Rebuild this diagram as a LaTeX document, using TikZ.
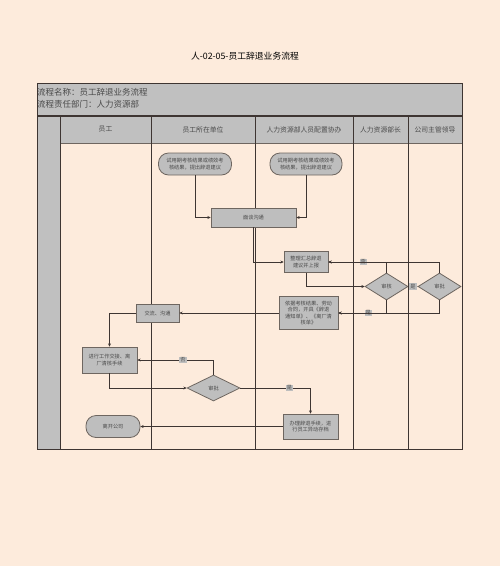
\documentclass[tikz,border=0pt]{standalone}
\usepackage{fontspec}
\setmainfont{Noto Sans CJK SC}
\usetikzlibrary{arrows.meta,positioning,shapes.geometric}
\definecolor{bgc}{HTML}{FDEBDC}
\definecolor{hdrc}{HTML}{C0C0C0}
\definecolor{nodec}{HTML}{BEBEBE}
\definecolor{edgec}{HTML}{6E6660}
\definecolor{linec}{HTML}{3E3532}
\definecolor{txtc}{HTML}{4A4A4A}
\tikzset{
  nodetext/.style={align=center, text=txtc, font=\fontsize{5.2}{6.6}\selectfont},
  term/.style={nodetext, draw=edgec, fill=nodec, line width=0.8pt, rounded corners=10pt, inner sep=0pt},
  procbox/.style={nodetext, draw=edgec, fill=nodec, line width=0.8pt, inner sep=0pt},
  decide/.style={nodetext, diamond, draw=edgec, fill=nodec, line width=0.8pt, inner sep=0pt},
  flow/.style={draw=linec, line width=0.6pt, -{Stealth[length=3.2pt,width=3pt]}},
  lbl/.style={fill=nodec, text=txtc, inner sep=1pt, font=\fontsize{5.2}{6}\selectfont},
  lanehead/.style={text=txtc, font=\fontsize{6.8}{8}\selectfont},
}
\begin{document}
\begin{tikzpicture}[x=1pt, y=-1pt, >=Stealth]
  \useasboundingbox[fill=bgc] (0,0) rectangle (500,566);

  % Title and header
  \node (title) at (245,56) {\fontsize{8.8}{10}\selectfont 人-02-05-员工辞退业务流程};
  \fill[hdrc] (37,83) rectangle (462,116);
  \fill[hdrc] (60,116) rectangle (462,143);
  \fill[hdrc] (37,116) rectangle (60,449);
  \node[anchor=west, inner sep=0pt, text=txtc] (pname) at (37,92) {\fontsize{8.5}{10}\selectfont 流程名称：员工辞退业务流程};
  \node[anchor=west, inner sep=0pt, text=txtc] (pdept) at (37,104) {\fontsize{8.5}{10}\selectfont 流程责任部门：人力资源部};

  % Swimlanes
  \draw[edgec, line width=0.5pt] (60,143) -- (462,143);
  \foreach \x in {60,151,255,353,408}
    \draw[linec, line width=0.7pt] (\x,116) -- (\x,449);
  \draw[linec, line width=1.2pt] (37,116) -- (462,116);
  \draw[linec, line width=1pt] (37,83) rectangle (462,449);
  \node[lanehead] (h1) at (105.5,129.5) {员工};
  \node[lanehead] (h2) at (203,129.5) {员工所在单位};
  \node[lanehead] (h3) at (304,129.5) {人力资源部人员配置协办};
  \node[lanehead] (h4) at (380.5,129.5) {人力资源部长};
  \node[lanehead] (h5) at (435,129.5) {公司主管领导};

  % Define nodes
  \node[term, minimum width=73pt, minimum height=22pt] (advA) at (195,164) {试用期考核结果或绩效考\\核结果，提出辞退建议};
  \node[term, minimum width=72pt, minimum height=22pt] (advB) at (306,164) {试用期考核结果或绩效考\\核结果，提出辞退建议};
  \node[procbox, minimum width=85pt, minimum height=19pt] (talk) at (253.5,217.5) {面谈沟通};
  \node[procbox, minimum width=44pt, minimum height=21pt] (sumup) at (306,262) {整理汇总辞退\\建议并上报};
  \node[decide, minimum width=43pt, minimum height=27pt] (check) at (386.5,286.5) {审核};
  \node[decide, minimum width=43pt, minimum height=27pt] (approve) at (439.5,286.5) {审批};
  \node[procbox, minimum width=59pt, minimum height=33pt] (notice) at (308.5,313) {依据考核结果、劳动\\合同，开具《辞退\\通知单》、《离厂清\\核单》};
  \node[procbox, minimum width=43pt, minimum height=18pt] (comm) at (157.5,313) {交流、沟通};
  \node[procbox, minimum width=55pt, minimum height=26pt] (handover) at (109.5,360) {进行工作交接、离\\厂清核手续};
  \node[decide, minimum width=53pt, minimum height=26pt] (unitok) at (213.5,388) {审批};
  \node[procbox, minimum width=55pt, minimum height=25pt] (archive) at (310.5,426.5) {办理辞退手续，进\\行员工异动存档};
  \node[term, minimum width=54pt, minimum height=22pt] (leave) at (113,426.5) {离开公司};

  % Draw arrows
  \draw[flow] (advA) |- (talk);
  \draw[flow] (advB) |- (talk);
  \draw[flow] (talk) |- (sumup);
  \draw[flow] (sumup) |- (check);
  \draw[flow] (check) -- node[lbl] {是} (approve);
  \draw[flow] (check.north) |- node[lbl, pos=0.7] {否} (sumup.east);
  \draw[flow] (approve.north) |- (sumup.east);
  \draw[flow] (check.south) |- node[lbl, pos=0.69] {是} (notice.east);
  \draw[flow] (approve.south) |- (notice.east);
  \draw[flow] (notice) -- (comm);
  \draw[flow] (comm.west) -| (handover.north);
  \draw[flow] (handover.south) |- (unitok.west);
  \draw[flow] (unitok.north) |- node[lbl, pos=0.7] {否} (handover.east);
  \draw[flow] (unitok.east) -| node[lbl, pos=0.35] {是} (archive.north);
  \draw[flow] (archive) -- (leave);
\end{tikzpicture}
\end{document}
